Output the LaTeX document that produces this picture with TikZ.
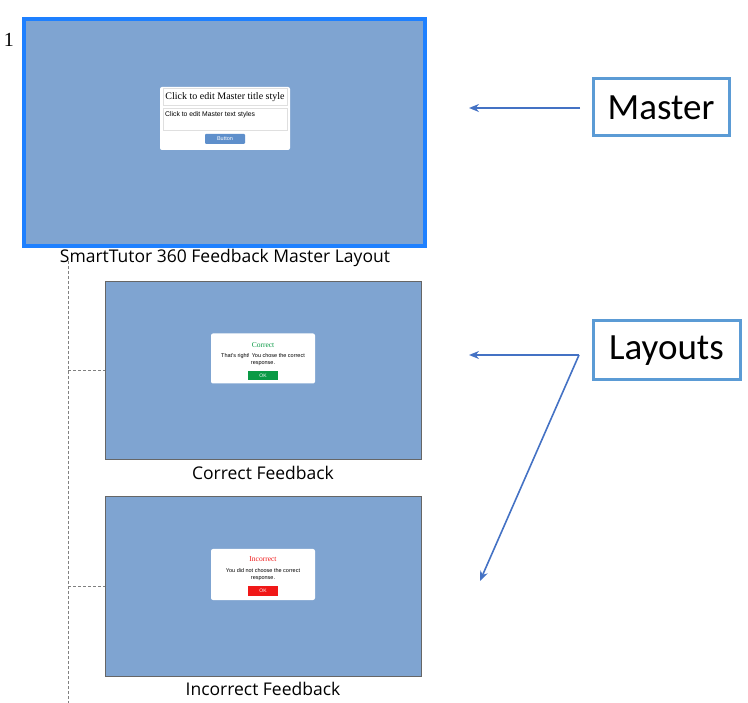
\documentclass[tikz,border=0pt]{standalone}
\usepackage{fontspec}
\setmainfont{Liberation Serif}
\newfontfamily\carlitofont{Carlito}
\newfontfamily\opensansfont{Open Sans}
\newfontfamily\arialfont{Liberation Sans}
\definecolor{slidefill}{HTML}{7FA4D1}
\definecolor{selblue}{HTML}{1E80FF}
\definecolor{arrowblue}{HTML}{4472C4}
\definecolor{boxblue}{HTML}{5B9BD5}
\definecolor{okgreen}{HTML}{0A9A45}
\definecolor{okred}{HTML}{F01818}
\definecolor{btnblue}{HTML}{5E8FCB}
\usetikzlibrary{arrows.meta}
\begin{document}
\begin{tikzpicture}[x=1pt,y=-1pt,
  slide/.style={draw=gray!80!black,line width=1pt,fill=slidefill},
  dlg/.style={fill=white,rounded corners=2pt},
  capt/.style={font=\opensansfont\fontsize{17.5}{20}\selectfont,inner sep=0pt},
  tag/.style={draw=boxblue,line width=3pt,fill=white,font=\carlitofont\fontsize{37}{40}\selectfont,inner sep=0pt},
  pointer/.style={draw=arrowblue,line width=1.6pt,-{Stealth[length=10pt,width=8pt]}},
  tree/.style={draw=gray,line width=0.8pt,dash pattern=on 3pt off 2pt}]
\useasboundingbox (0,0) rectangle (748,703);
% number
\node[font=\fontsize{20}{22}\selectfont,inner sep=0pt] (num) at (9,40) {1};
% master slide
\path[fill=slidefill,draw=selblue,line width=4pt] (24,19) rectangle (425,246);
\node[dlg,minimum width=130pt,minimum height=63pt,inner sep=0pt] (mdlg) at (225,118.5) {};
\node[draw=gray!25,fill=white,minimum width=124pt,minimum height=17pt,inner sep=0pt,font=\fontsize{10}{11}\selectfont] (mtitle) at (225,97) {Click to edit Master title style};
\node[draw=gray!25,fill=white,minimum width=124pt,minimum height=22pt,inner sep=0pt] (mtext) at (225,119) {};
\node[anchor=north west,inner sep=0pt,font=\arialfont\fontsize{6.8}{7}\selectfont] (mtextl) at (165,111) {Click to edit Master text styles};
\node[fill=btnblue,rounded corners=1pt,minimum width=40pt,minimum height=10pt,inner sep=0pt,text=white,font=\arialfont\fontsize{5.5}{6}\selectfont] (mbtn) at (225,139) {Button};
\node[capt] (mcap) at (225,258) {SmartTutor 360 Feedback Master Layout};
% correct slide
\path[slide] (105,282) rectangle (421,460);
\node[dlg,minimum width=104pt,minimum height=50pt,inner sep=0pt] (cdlg) at (263,358.5) {};
\node[inner sep=0pt,text=okgreen,font=\fontsize{7.5}{8}\selectfont] (ctitle) at (263,345) {Correct};
\node[inner sep=0pt,align=center,font=\arialfont\fontsize{5.5}{6.5}\selectfont] (ctext) at (263,359.5) {That's right! You chose the correct\\response.};
\node[fill=okgreen,minimum width=30pt,minimum height=9pt,inner sep=0pt,text=white,font=\arialfont\fontsize{5}{5}\selectfont] (cbtn) at (263,375.5) {OK};
\node[capt] (ccap) at (263,473) {Correct Feedback};
% incorrect slide
\path[slide] (105,497) rectangle (421,676);
\node[dlg,minimum width=104pt,minimum height=51pt,inner sep=0pt] (idlg) at (263,574.5) {};
\node[inner sep=0pt,text=okred,font=\fontsize{7.5}{8}\selectfont] (ititle) at (263,559) {Incorrect};
\node[inner sep=0pt,align=center,font=\arialfont\fontsize{5.5}{6.5}\selectfont] (itext) at (263,574.5) {You did not choose the correct\\response.};
\node[fill=okred,minimum width=30pt,minimum height=9pt,inner sep=0pt,text=white,font=\arialfont\fontsize{5}{5}\selectfont] (ibtn) at (263,591) {OK};
\node[capt] (icap) at (263,689) {Incorrect Feedback};
% tree lines
\coordinate (ttop) at (68,261);
\coordinate (tbot) at (68,703);
\coordinate (tj1) at (68,370);
\coordinate (tj2) at (68,586);
\draw[tree] (ttop) -- (tbot);
\draw[tree] (tj1) -- (105,370);
\draw[tree] (tj2) -- (105,586);
% labels
\node[tag,minimum width=136pt,minimum height=57pt] (master) at (661,107.5) {Master};
\node[tag,minimum width=147pt,minimum height=59pt] (layouts) at (666.5,350.5) {Layouts};
\coordinate (mstart) at (580,108);
\coordinate (mend) at (469,108);
\coordinate (lstart) at (579,355);
\coordinate (lend1) at (469,355);
\coordinate (lend2) at (480,581);
\draw[pointer] (mstart) -- (mend);
\draw[pointer] (lstart) -- (lend1);
\draw[pointer] (lstart) -- (lend2);
\end{tikzpicture}
\end{document}
